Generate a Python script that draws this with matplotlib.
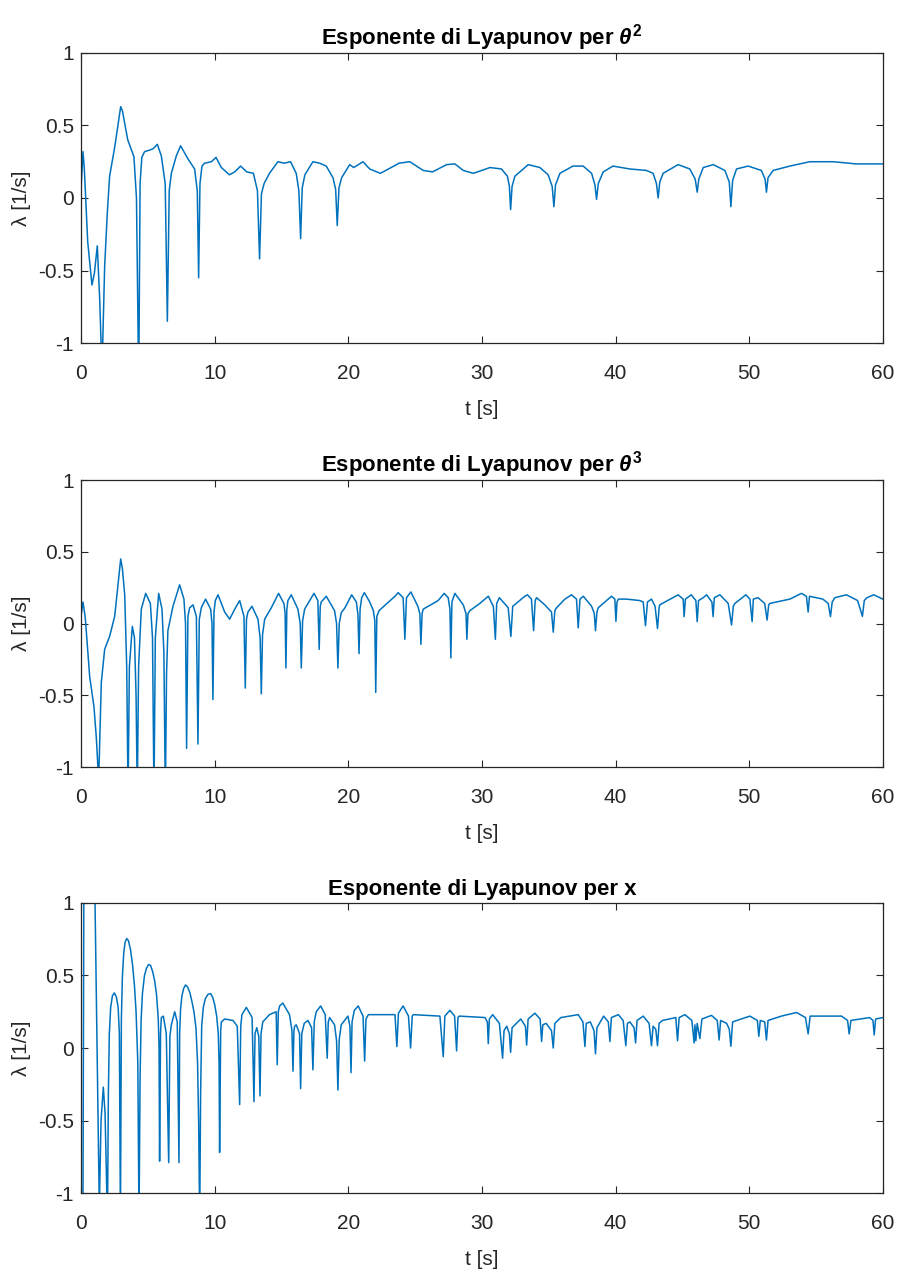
import matplotlib
matplotlib.use("Agg")
import matplotlib.pyplot as plt
from matplotlib import font_manager

# Lyapunov exponent for theta^2 (time [s], lambda [1/s])
t_theta2 = [0.0, 0.15, 0.25, 0.5, 0.82, 1.0, 1.22, 1.4, 1.57, 1.77, 1.97,
            2.14, 2.52, 2.97, 3.1, 3.5, 3.96, 4.15, 4.32, 4.42, 4.55, 4.76,
            5.14, 5.4, 5.71, 6.01, 6.3, 6.46, 6.6, 6.76, 7.13, 7.45, 8.0,
            8.5, 8.7, 8.8, 8.9, 9.05, 9.25, 9.75, 10.1, 10.5, 11.1, 11.5,
            11.94, 12.4, 12.9, 13.2, 13.36, 13.5, 13.7, 14.1, 14.73, 15.2,
            15.68, 16.1, 16.3, 16.43, 16.55, 16.75, 17.35, 17.85, 18.35,
            18.85, 19.05, 19.17, 19.3, 19.5, 20.1, 20.4, 21.1, 21.6, 22.4,
            23.0, 23.8, 24.6, 25.6, 26.3, 27.35, 27.97, 28.6, 29.35, 30.6,
            31.46, 31.9, 32.05, 32.14, 32.25, 32.46, 33.46, 34.33, 34.95,
            35.25, 35.38, 35.5, 35.83, 36.8, 37.57, 38.2, 38.45, 38.57, 38.7,
            39.07, 39.8, 41.06, 42.3, 42.8, 43.05, 43.18, 43.3, 43.55, 44.67,
            45.55, 45.95, 46.1, 46.22, 46.55, 47.3, 48.17, 48.5, 48.62, 48.75,
            49.04, 49.91, 50.9, 51.18, 51.28, 51.4, 51.78, 53.03, 54.52,
            56.27, 58.0, 60.0]
lam_theta2 = [0.05, 0.32, 0.2, -0.3, -0.6, -0.52, -0.33, -0.7, -1.2, -0.47,
              -0.1, 0.15, 0.35, 0.63, 0.6, 0.40, 0.285, 0.0, -1.3, 0.1, 0.28,
              0.32, 0.33, 0.34, 0.37, 0.29, 0.1, -0.85, 0.05, 0.17, 0.29,
              0.36, 0.27, 0.20, 0.05, -0.55, 0.1, 0.22, 0.24, 0.25, 0.28,
              0.21, 0.16, 0.18, 0.22, 0.18, 0.17, 0.05, -0.42, 0.03, 0.1,
              0.17, 0.25, 0.24, 0.25, 0.17, 0.05, -0.28, 0.07, 0.16, 0.25,
              0.24, 0.22, 0.14, 0.06, -0.19, 0.07, 0.14, 0.23, 0.21, 0.25,
              0.2, 0.17, 0.2, 0.24, 0.25, 0.19, 0.18, 0.23, 0.235, 0.19,
              0.17, 0.21, 0.20, 0.15, 0.08, -0.08, 0.08, 0.15, 0.23, 0.21,
              0.16, 0.08, -0.06, 0.09, 0.17, 0.22, 0.22, 0.17, 0.09, -0.01,
              0.1, 0.18, 0.22, 0.20, 0.19, 0.17, 0.1, 0.0, 0.11, 0.17, 0.23,
              0.20, 0.13, 0.04, 0.13, 0.21, 0.23, 0.19, 0.11, -0.06, 0.12,
              0.20, 0.22, 0.19, 0.13, 0.04, 0.14, 0.19, 0.22, 0.25, 0.25,
              0.235, 0.235]

# Lyapunov exponent for theta^3
t_theta3 = [0.0, 0.15, 0.32, 0.65, 0.97, 1.15, 1.32, 1.52, 1.77, 2.14, 2.52,
            2.97, 3.1, 3.27, 3.42, 3.52, 3.62, 3.84, 4.0, 4.12, 4.21, 4.31,
            4.51, 4.84, 5.19, 5.35, 5.46, 5.56, 5.81, 6.06, 6.2, 6.31, 6.4,
            6.5, 6.88, 7.38, 7.7, 7.82, 7.9, 8.0, 8.13, 8.38, 8.63, 8.75,
            8.85, 9.0, 9.32, 9.7, 9.8, 9.87, 9.95, 10.05, 10.25, 10.75, 11.12,
            11.5, 11.87, 12.19, 12.29, 12.38, 12.49, 12.79, 13.24, 13.4,
            13.49, 13.58, 13.74, 14.24, 14.78, 15.18, 15.27, 15.33, 15.4,
            15.48, 15.73, 16.23, 16.4, 16.48, 16.58, 16.73, 17.43, 17.72,
            17.82, 17.9, 17.97, 18.35, 18.97, 19.12, 19.22, 19.32, 19.47,
            19.75, 20.25, 20.6, 20.72, 20.8, 20.88, 21.0, 21.2, 21.6, 21.87,
            21.98, 22.05, 22.13, 22.3, 23.49, 23.73, 24.1, 24.23, 24.35,
            24.68, 25.2, 25.35, 25.43, 25.52, 25.6, 26.72, 27.17, 27.47,
            27.6, 27.67, 27.75, 27.97, 28.6, 28.8, 28.87, 28.95, 29.1, 29.84,
            30.47, 30.85, 31.0, 31.1, 31.3, 31.96, 32.16, 32.3, 33.2, 33.4,
            33.7, 33.86, 33.98, 34.08, 34.7, 35.2, 35.33, 35.45, 35.58, 36.2,
            36.7, 37.07, 37.2, 37.33, 37.58, 38.2, 38.4, 38.49, 38.6, 38.7,
            39.69, 39.94, 40.02, 40.1, 40.2, 40.8, 41.81, 42.06, 42.23,
            42.38, 42.68, 42.95, 43.13, 43.25, 43.3, 44.67, 45.05, 45.12,
            45.22, 45.65, 46.0, 46.1, 46.2, 46.55, 46.8, 47.2, 47.29, 47.38,
            47.8, 48.42, 48.67, 48.8, 48.92, 49.74, 50.04, 50.21, 50.3,
            50.65, 51.15, 51.33, 51.45, 51.53, 53.03, 53.9, 54.27, 54.4,
            54.5, 55.5, 55.9, 56.07, 56.2, 56.4, 57.27, 58.1, 58.46, 58.6,
            58.8, 59.3, 60.0]
lam_theta3 = [0.05, 0.15, 0.04, -0.37, -0.58, -0.8, -1.1, -0.41, -0.18,
              -0.09, 0.05, 0.45, 0.38, 0.2, -0.3, -1.2, -0.3, -0.02, -0.1,
              -0.5, -1.2, -0.3, 0.1, 0.21, 0.14, -0.1, -1.2, -0.1, 0.21, 0.1,
              -0.2, -1.2, -0.35, -0.05, 0.12, 0.27, 0.17, 0.0, -0.87, 0.05,
              0.11, 0.13, 0.05, -0.84, 0.03, 0.11, 0.17, 0.1, 0.0, -0.53,
              0.08, 0.16, 0.20, 0.08, 0.03, 0.1, 0.16, 0.05, -0.45, 0.03,
              0.08, 0.12, 0.03, -0.1, -0.49, -0.08, 0.03, 0.11, 0.21, 0.14,
              0.07, -0.31, 0.1, 0.16, 0.20, 0.10, 0.0, -0.31, 0.02, 0.10,
              0.21, 0.16, -0.18, 0.12, 0.15, 0.19, 0.09, 0.0, -0.31, 0.0,
              0.075, 0.11, 0.20, 0.15, 0.06, -0.21, 0.1, 0.18, 0.215, 0.15,
              0.09, 0.02, -0.48, 0.05, 0.09, 0.19, 0.215, 0.18, -0.11, 0.18,
              0.22, 0.12, 0.07, -0.145, 0.07, 0.1, 0.16, 0.21, 0.18, 0.1,
              -0.24, 0.15, 0.21, 0.13, 0.07, -0.11, 0.07, 0.09, 0.14, 0.19,
              0.12, -0.11, 0.14, 0.18, 0.11, -0.09, 0.12, 0.19, 0.20, 0.17,
              -0.05, 0.16, 0.18, 0.13, 0.08, -0.06, 0.09, 0.11, 0.17, 0.20,
              0.17, -0.03, 0.17, 0.19, 0.12, 0.07, -0.05, 0.08, 0.11, 0.19,
              0.17, 0.015, 0.15, 0.17, 0.17, 0.16, 0.15, -0.015, 0.15, 0.17,
              0.12, -0.035, 0.11, 0.13, 0.20, 0.17, 0.048, 0.17, 0.20, 0.16,
              0.013, 0.16, 0.18, 0.20, 0.15, 0.048, 0.18, 0.20, 0.14, -0.01,
              0.12, 0.14, 0.20, 0.17, 0.013, 0.17, 0.18, 0.14, 0.024, 0.13,
              0.14, 0.17, 0.21, 0.19, 0.08, 0.19, 0.17, 0.14, 0.048, 0.15,
              0.18, 0.20, 0.16, 0.05, 0.16, 0.18, 0.20, 0.17]

# Lyapunov exponent for x
t_x = [0.0, 0.14, 0.22, 0.6, 1.0, 1.37, 1.5, 1.67, 1.8, 1.98,
       2.05, 2.12, 2.22, 2.35, 2.5, 2.65, 2.78, 2.87, 2.95,
       3.02, 3.1, 3.2, 3.3, 3.42, 3.55, 3.7, 3.85, 4.0, 4.12, 4.25, 4.34,
       4.42, 4.5, 4.6, 4.75, 4.9, 5.05, 5.2, 5.35, 5.5, 5.65, 5.78, 5.84,
       5.88, 5.95, 6.01, 6.16, 6.38, 6.56, 6.65, 6.76, 7.01, 7.2, 7.33,
       7.38, 7.45, 7.55, 7.68, 7.82, 7.98, 8.15, 8.3, 8.45, 8.6, 8.72, 8.8,
       8.88, 8.95, 9.03, 9.15, 9.3, 9.5, 9.7, 9.85, 10.0, 10.15, 10.27,
       10.33, 10.37, 10.45, 10.5,
       10.75, 11.37, 11.69, 11.87, 11.95, 12.04, 12.37, 12.8, 12.94, 13.02,
       13.15, 13.3, 13.39, 13.47, 13.6, 14.1, 14.6, 14.68, 14.76, 14.86,
       15.1, 15.6, 15.78, 15.86, 15.93, 15.98, 16.1, 16.35, 16.43, 16.52,
       16.7, 16.98, 17.25, 17.35, 17.45, 17.6, 17.93, 18.27, 18.42, 18.5,
       18.6, 18.97, 19.12, 19.22, 19.32, 19.47, 19.97, 20.12, 20.2, 20.28,
       20.45, 20.74, 21.1, 21.22, 21.32, 21.5, 23.49, 23.63, 23.75, 24.1,
       24.5, 24.66, 24.78, 24.86, 26.85, 27.1, 27.22, 27.6, 27.95, 28.1,
       28.2, 28.3, 30.22, 30.4, 30.47, 30.55, 30.8, 31.3, 31.54, 31.65,
       31.85, 32.05, 32.14, 32.25, 32.9, 33.25, 33.34, 33.45, 33.96, 34.35,
       34.46, 34.55, 34.8, 35.2, 35.33, 35.45, 35.9, 37.2, 37.55, 37.7,
       37.8, 38.1, 38.38, 38.49, 38.6, 39.1, 39.45, 39.57, 39.68, 40.2,
       40.56, 40.76, 40.88, 41.06, 41.38, 41.49, 41.6, 42.06, 42.5, 42.68,
       42.8, 43.0, 43.13, 43.25, 43.5, 44.5, 44.63, 44.75, 45.18, 45.7,
       45.87, 45.93, 46.0, 46.1, 46.3, 46.45, 47.17, 47.6, 47.74, 47.85,
       48.3, 48.5, 48.62, 48.75, 50.04, 50.6, 50.71, 50.82, 51.15, 51.28,
       51.4, 52.4, 53.53, 54.2, 54.4, 54.55, 55.2, 56.9, 57.35, 57.47,
       57.6, 59.0, 59.25, 59.34, 59.45, 60.0]
lam_x = [-3.0, -1.3, 1.3, 2.5, 1.33, -1.1, -0.5, -0.27, -0.45, -1.2,
         -0.3, 0.1, 0.28, 0.36, 0.38, 0.35, 0.28, 0.1, -1.2,
         0.2, 0.5, 0.66, 0.73, 0.755, 0.74, 0.68, 0.58, 0.43, 0.25, -0.1,
         -1.2, -0.2, 0.2, 0.38, 0.5, 0.55, 0.575, 0.57, 0.53, 0.47, 0.37,
         0.2, 0.0, -0.78, 0.1, 0.21, 0.22, 0.1, -0.79, 0.08, 0.16, 0.25,
         0.18, -0.79, 0.1, 0.27, 0.36, 0.41, 0.435, 0.42, 0.38, 0.32, 0.25,
         0.14, -0.1, -0.5, -1.2, -0.3, 0.15, 0.28, 0.34, 0.37, 0.375, 0.35,
         0.3, 0.22, 0.1, -0.1, -0.72, 0.12, 0.18,
         0.20, 0.19, 0.15, -0.39, 0.15, 0.23, 0.28, 0.21,
         -0.37, 0.1, 0.14, 0.08, -0.33, 0.1, 0.18, 0.23, 0.25, -0.115, 0.25,
         0.29, 0.31, 0.23, 0.12, -0.16, 0.12, 0.15, 0.16, 0.1, -0.28, 0.1,
         0.17, 0.19, 0.14, -0.15, 0.18, 0.25, 0.29, 0.23, -0.07, 0.18, 0.21,
         0.16, 0.05, -0.29, 0.06, 0.16, 0.22, 0.15, -0.17, 0.18, 0.26, 0.29,
         0.22, -0.09, 0.2, 0.23, 0.23, 0.01, 0.24, 0.29, 0.22, 0.0, 0.22,
         0.23, 0.22, -0.06, 0.22, 0.26, 0.22, -0.02, 0.21, 0.22, 0.21, 0.18,
         0.03, 0.2, 0.23, 0.17, -0.07, 0.12, 0.15, 0.1, -0.03, 0.14, 0.2,
         0.15, 0.02, 0.2, 0.24, 0.2, 0.045, 0.16, 0.17, 0.12, 0.0, 0.17,
         0.21, 0.23, 0.18, 0.01, 0.17, 0.18, 0.12, -0.04, 0.14, 0.22, 0.18,
         0.045, 0.21, 0.23, 0.19, 0.016, 0.17, 0.18, 0.14, 0.035, 0.19,
         0.22, 0.17, 0.016, 0.15, 0.13, 0.016, 0.17, 0.19, 0.21, 0.05, 0.21,
         0.23, 0.19, 0.035, 0.16, 0.05, 0.17, 0.065, 0.2, 0.225, 0.19, 0.055,
         0.19, 0.17, 0.13, 0.012, 0.18, 0.22, 0.19, 0.08, 0.19, 0.18, 0.055,
         0.19, 0.22, 0.245, 0.21, 0.097, 0.22, 0.22, 0.22, 0.19, 0.097, 0.19,
         0.21, 0.19, 0.09, 0.2, 0.21]

titles = [r"Esponente di Lyapunov per $\theta^2$",
          r"Esponente di Lyapunov per $\theta^3$",
          "Esponente di Lyapunov per x"]
x_ticks = [0, 10, 20, 30, 40, 50, 60]
y_ticks = [-1, -0.5, 0, 0.5, 1]
y_tick_labels = ["-1", "-0.5", "0", "0.5", "1"]

LINE_COLOR = "#0072BD"
AX_COLOR = "#262626"


def pick_family():
    """Use the narrow Liberation font when it is installed"""
    names = {f.name for f in font_manager.fontManager.ttflist}
    if "Liberation Sans Narrow" in names:
        return ["Liberation Sans Narrow", "DejaVu Sans"], 17
    return ["Liberation Sans", "DejaVu Sans"], 15


def draw_panel(ax, t, lam, title, fam, size):
    """Draws one Lyapunov exponent subplot in MATLAB style"""
    ax.plot(t, lam, color=LINE_COLOR, linewidth=1.1)
    ax.set_xlim(0, 60)
    ax.set_ylim(-1, 1)
    ax.set_xticks(x_ticks)
    ax.set_yticks(y_ticks)
    ax.set_yticklabels(y_tick_labels)
    ax.tick_params(direction="in", top=True, right=True, length=5,
                   width=0.8, colors=AX_COLOR, labelsize=size)
    ax.tick_params(axis="x", pad=15)
    ax.tick_params(axis="y", pad=5)
    for lab in ax.get_xticklabels() + ax.get_yticklabels():
        lab.set_family(fam)
    for sp in ax.spines.values():
        sp.set_color(AX_COLOR)
        sp.set_linewidth(0.9)
    ax.set_title(title, fontsize=size + 1, fontweight="bold",
                 family=fam, color="black", pad=6)
    ax.set_xlabel("t [s]", fontsize=size, family=fam, color=AX_COLOR,
                  labelpad=12)
    ax.set_ylabel("λ [1/s]", fontsize=size, family=fam, color=AX_COLOR,
                  labelpad=5)


def main():
    plt.rcParams["axes.unicode_minus"] = False
    # MATLAB draws the TeX theta as a sans italic glyph
    plt.rcParams["mathtext.fontset"] = "custom"
    plt.rcParams["mathtext.rm"] = "Liberation Sans:bold"
    plt.rcParams["mathtext.it"] = "Liberation Sans:italic:bold"
    plt.rcParams["mathtext.bf"] = "Liberation Sans:bold"
    fam, size = pick_family()
    fig = plt.figure(figsize=(8.99, 12.79), dpi=100)
    # axes boxes
    boxes = [[0.0901, 0.7318, 0.8921, 0.2268],
             [0.0901, 0.4003, 0.8921, 0.2244],
             [0.0901, 0.0672, 0.8921, 0.2268]]
    series = [(t_theta2, lam_theta2), (t_theta3, lam_theta3), (t_x, lam_x)]
    for box, (t, lam), title in zip(boxes, series, titles):
        ax = fig.add_axes(box)
        draw_panel(ax, t, lam, title, fam, size)
    fig.savefig("out.png", dpi=100, facecolor="white")


if __name__ == "__main__":
    main()
